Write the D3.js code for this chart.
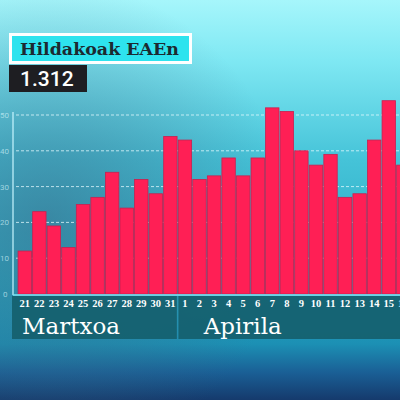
<!DOCTYPE html>
<html><head><meta charset="utf-8">
<script src="https://cdn.jsdelivr.net/npm/d3@7"></script>
<style>html,body{margin:0;padding:0;background:#2aa0b8;}svg{display:block;}</style>
</head><body>
<script>
const days = ["21","22","23","24","25","26","27","28","29","30","31","1","2","3","4","5","6","7","8","9","10","11","12","13","14","15","16"];
const deaths = [12,23,19,13,25,27,34,24,32,28,44,43,32,33,38,33,38,52,51,40,36,39,27,28,43,54,36];
const yTicks = [0,10,20,30,40,50];
const months = ["Martxoa","Apirila"];
const monthStart = ["21","1"];
const title = "Hildakoak EAEn";
const total = "1.312";

const W=400,H=400;
const svg=d3.select("body").append("svg").attr("width",W).attr("height",H);
const defs=svg.append("defs");
const g1=defs.append("linearGradient").attr("id","bg").attr("x1",0).attr("y1",0).attr("x2",0).attr("y2",1);
[[0,"#a6f6fb"],[0.15,"#7fe8f3"],[0.4,"#45c3d8"],[0.7,"#28a8c2"],[0.86,"#1c90b4"],[0.93,"#1a6096"],[1,"#153a6c"]].forEach(d=>g1.append("stop").attr("offset",d[0]).attr("stop-color",d[1]));
const g2=defs.append("radialGradient").attr("id","shade").attr("cx",0.12).attr("cy",0.55).attr("r",0.6);
g2.append("stop").attr("offset",0).attr("stop-color","#3a6a88").attr("stop-opacity",0.6);
g2.append("stop").attr("offset",1).attr("stop-color","#3a6a88").attr("stop-opacity",0);
svg.append("rect").attr("width",W).attr("height",H).attr("fill","url(#bg)");
svg.append("rect").attr("width",W).attr("height",H).attr("fill","url(#shade)");

const y=d3.scaleLinear().domain([0,50]).range([294,115]);
const x=d3.scaleBand().domain(days).range([17.5,410.6]).paddingInner(0.08).paddingOuter(0.04);

// gridlines
svg.append("g").selectAll("line").data(yTicks.filter(d=>d>0)).join("line")
 .attr("x1",16).attr("x2",400).attr("y1",d=>y(d)).attr("y2",d=>y(d))
 .attr("stroke","#e8fbff").attr("stroke-opacity",0.75).attr("stroke-width",1).attr("stroke-dasharray","3,2");
// y labels
svg.append("g").selectAll("text").data(yTicks).join("text")
 .attr("x",d=>d===0?3:0).attr("y",d=>y(d)+3).text(d=>d)
 .attr("font-family","Roboto, sans-serif").attr("font-size",8).attr("fill","#d8f6fb").attr("fill-opacity",0.65);

// bars
svg.append("g").selectAll("rect").data(deaths).join("rect")
 .attr("x",(d,i)=>x(days[i])).attr("width",x.bandwidth())
 .attr("y",d=>y(d)).attr("height",d=>y(0)-y(d))
 .attr("fill","#ff1f55").attr("stroke","#c8204f").attr("stroke-width",0.8);

// axis lines
svg.append("line").attr("x1",13).attr("x2",13).attr("y1",112).attr("y2",295).attr("stroke","#c8f6ff").attr("stroke-width",1.2);
svg.append("line").attr("x1",13).attr("x2",400).attr("y1",295).attr("y2",295).attr("stroke","#7fe6f5").attr("stroke-width",1.5);

// label band
const i1=days.indexOf(monthStart[1]);
const sepX=(x(days[i1-1])+x.bandwidth()+x(days[i1]))/2;
svg.append("rect").attr("x",12).attr("y",296).attr("width",sepX-12-0.8).attr("height",43).attr("fill","#155f6e").attr("fill-opacity",0.92);
svg.append("rect").attr("x",sepX+0.8).attr("y",296).attr("width",400-sepX).attr("height",43).attr("fill","#155f6e").attr("fill-opacity",0.92);

svg.append("g").selectAll("text").data(days).join("text")
 .attr("x",d=>x(d)+x.bandwidth()/2).attr("y",307).attr("text-anchor","middle").text(d=>d)
 .attr("font-family","Liberation Serif, serif").attr("font-weight","bold").attr("font-size",10.5).attr("fill","#ffffff");

svg.append("g").selectAll("text").data(months).join("text")
 .attr("x",(d,i)=>i===0?22:sepX+26).attr("y",334).text(d=>d)
 .attr("font-family","DejaVu Serif, serif").attr("font-size",23).attr("fill","#ffffff");

// title
svg.append("rect").attr("x",10.5).attr("y",34.5).attr("width",180).attr("height",28).attr("fill","#2ee3ee").attr("stroke","#ffffff").attr("stroke-width",3);
svg.append("text").attr("x",20).attr("y",55).text(title).attr("textLength",159).attr("lengthAdjust","spacingAndGlyphs")
 .attr("font-family","DejaVu Serif, serif").attr("font-weight","bold").attr("font-size",17).attr("fill","#1c2a30");
svg.append("rect").attr("x",9).attr("y",65).attr("width",78).attr("height",27).attr("fill","#1e1e22");
svg.append("text").attr("x",20).attr("y",86).text(total)
 .attr("font-family","Roboto, sans-serif").attr("font-weight","500").attr("font-size",21).attr("fill","#ffffff");
</script>
</body></html>
